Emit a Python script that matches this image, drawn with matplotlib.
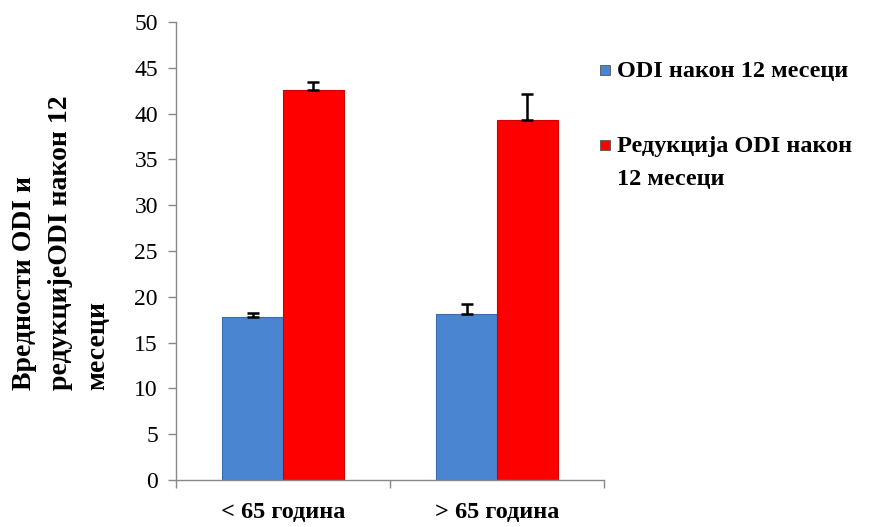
import matplotlib.pyplot as plt
from matplotlib.patches import Rectangle
import numpy as np

categories = ['< 65 година', '> 65 година']
series_names = ['ODI након 12 месеци', 'Редукција ODI након\n12 месеци']
odi_12 = [17.8, 18.1]
odi_12_err = [0.4, 1.1]
odi_red = [42.6, 39.3]
odi_red_err = [0.9, 2.8]

blue = '#4a85d2'
red = '#ff0000'

plt.rcParams['font.family'] = ['Liberation Serif', 'DejaVu Serif']

W, H = 869, 527
fig = plt.figure(figsize=(W / 100, H / 100), dpi=100)
ax = fig.add_axes([176 / W, 47 / H, 428 / W, 458 / H])

x = np.arange(len(categories))
width = 0.285

ax.bar(x - width / 2, odi_12, width, color=blue, edgecolor='#3a6cb0', linewidth=0.8, zorder=2)
ax.bar(x + width / 2, odi_red, width, color=red, edgecolor='#d00000', linewidth=0.8, zorder=2)
ax.errorbar(x - width / 2, odi_12, yerr=[np.zeros(2), odi_12_err], fmt='none',
            ecolor='black', elinewidth=1.8, capsize=4.5, capthick=1.8, zorder=3)
ax.errorbar(x + width / 2, odi_red, yerr=[np.zeros(2), odi_red_err], fmt='none',
            ecolor='black', elinewidth=1.8, capsize=4.5, capthick=1.8, zorder=3)

ax.set_xlim(-0.5, 1.5)
ax.set_ylim(0, 50)
ax.set_yticks(np.arange(0, 51, 5))
ax.tick_params(axis='y', labelsize=17, colors='#888888', labelcolor='black',
               direction='out', length=6, width=1, pad=7)
ax.set_xticks(x)
ax.set_xticklabels(categories, fontsize=17.5, fontweight='bold')
ax.tick_params(axis='x', length=0, pad=16)
ax.set_xticks([-0.5, 0.5, 1.5], minor=True)
ax.tick_params(axis='x', which='minor', length=6, width=1, colors='#888888')

for s in ['top', 'right']:
    ax.spines[s].set_visible(False)
for s in ['left', 'bottom']:
    ax.spines[s].set_color('#888888')
    ax.spines[s].set_linewidth(1)

fig.text(12 / W, 1 - 390 / H, 'Вредности ODI и\nредукцијеODI након 12\nмесеци',
         rotation=90, fontsize=20, fontweight='bold', ha='left', va='bottom',
         multialignment='left', linespacing=1.6)

# legend drawn by hand so the wrapped label gets the wide line spacing
legend_y = [70, 145]
for name, col, ly in zip(series_names, [blue, red], legend_y):
    fig.patches.append(Rectangle((600 / W, 1 - (ly + 5) / H), 10 / W, 10 / H,
                                 transform=fig.transFigure, facecolor=col,
                                 edgecolor='#555555', linewidth=0.6))
    fig.text(617 / W, 1 - (ly - 9) / H, name, fontsize=17.5, fontweight='bold',
             ha='left', va='top', linespacing=1.75)

plt.savefig('out.png', dpi=100)
